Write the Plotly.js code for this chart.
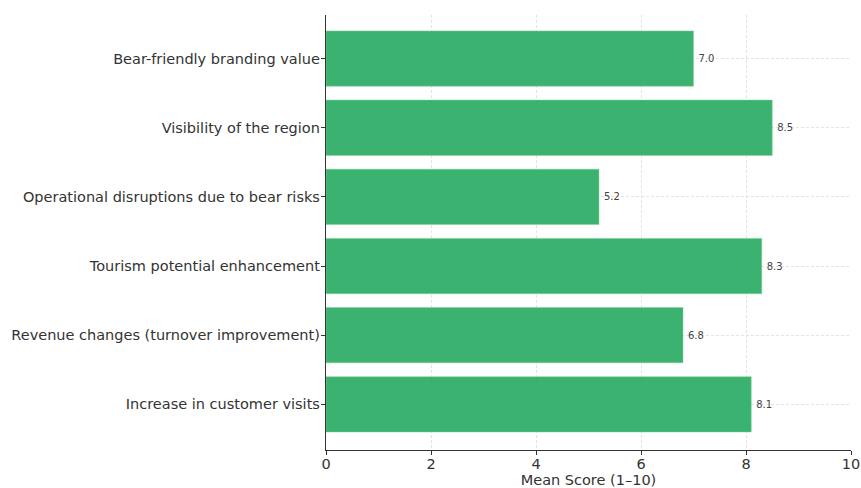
<!DOCTYPE html>
<html><head><meta charset="utf-8">
<script src="https://cdn.plot.ly/plotly-3.0.1.min.js"></script>
<style>html,body{margin:0;padding:0;background:#fff}#c{width:861px;height:488px}</style>
</head><body><div id="c"></div>
<script>
const categories = [
  "Increase in customer visits",
  "Revenue changes (turnover improvement)",
  "Tourism potential enhancement",
  "Operational disruptions due to bear risks",
  "Visibility of the region",
  "Bear-friendly branding value"
];
const meanScores = [8.1, 6.8, 8.3, 5.2, 8.5, 7.0];
const xTicks = [0, 2, 4, 6, 8, 10];
const xTitle = "Mean Score (1–10)";

const trace = {
  type: "bar", orientation: "h",
  x: meanScores, y: categories,
  marker: {color: "rgba(38,170,97,0.9)", line: {color: "rgba(120,210,150,0.8)", width: 0.6}},
  width: 0.8,
  text: meanScores.map(v => "\u2009" + v.toFixed(1)),
  textposition: "outside",
  textfont: {family: "DejaVu Sans", size: 10, color: "#444"},
  cliponaxis: false,
  hoverinfo: "none"
};
const layout = {
  width: 861, height: 488,
  margin: {l: 326, r: 10, t: 15, b: 38},
  paper_bgcolor: "#fff", plot_bgcolor: "#fff",
  font: {family: "DejaVu Sans", color: "#333"},
  showlegend: false,
  xaxis: {
    range: [0, 10], tickvals: xTicks, ticktext: xTicks.map(String),
    showgrid: true, gridcolor: "#dcdcdc", griddash: "3px,2px", gridwidth: 0.8,
    zeroline: false, showline: true, linecolor: "#333", linewidth: 1.2,
    ticks: "outside", ticklen: 4, tickcolor: "#333", ticklabelstandoff: -4,
    tickfont: {size: 14.5, color: "#333"},
    title: {text: xTitle, font: {size: 14.5, color: "#333"}, standoff: 2}
  },
  yaxis: {
    type: "category", range: [-0.66, 5.63],
    showgrid: true, gridcolor: "#dcdcdc", griddash: "3px,2px", gridwidth: 0.8,
    zeroline: false, showline: true, linecolor: "#333", linewidth: 1.2,
    ticks: "outside", ticklen: 4, tickcolor: "#333", ticklabelstandoff: -2,
    tickfont: {size: 14.5, color: "#333"}
  }
};
Plotly.newPlot("c", [trace], layout, {displayModeBar: false, staticPlot: true});
</script></body></html>
